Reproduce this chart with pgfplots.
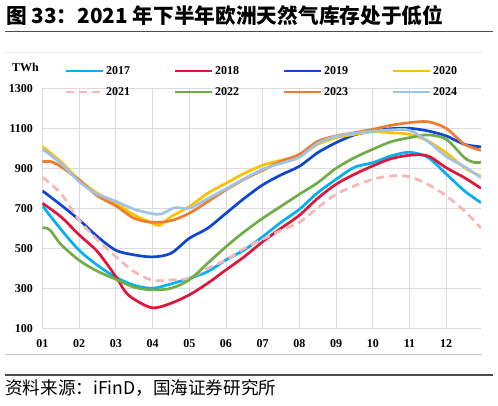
\documentclass[border=0pt]{standalone}
\usepackage{pgfplots}
\pgfplotsset{compat=1.18}
\usepackage{fontspec}
\setmainfont{Liberation Serif}
\newfontfamily\cjk{Noto Sans CJK SC}
\definecolor{c17}{RGB}{0,176,240}
\definecolor{c18}{RGB}{222,22,58}
\definecolor{c19}{RGB}{12,70,210}
\definecolor{c20}{RGB}{255,192,0}
\definecolor{c21}{RGB}{248,182,182}
\definecolor{c22}{RGB}{112,173,71}
\definecolor{c23}{RGB}{237,125,49}
\definecolor{c24}{RGB}{157,195,230}
\begin{document}
\begin{tikzpicture}[x=1pt,y=1pt]
\useasboundingbox (0,0) rectangle (498,406);
\node[anchor=base west, inner sep=0, font=\cjk\bfseries\fontsize{20.7}{20.7}\selectfont] at (6,382) {图 33：2021 年下半年欧洲天然气库存处于低位};
\draw[line width=1.4pt, black!70] (5,374.3) -- (492.7,374.3);
\draw[line width=0.6pt, black!8] (5,353.3) -- (481.7,353.3);
\draw[line width=0.8pt, black!22] (5,52) -- (481.7,52);
\draw[line width=1.4pt, black!70] (5,31) -- (492.7,31);
\node[anchor=base west, inner sep=0, font=\cjk\fontsize{17.6}{17.6}\selectfont] at (5,11) {资料来源：iFinD，国海证券研究所};
\node[anchor=base west, inner sep=0, font=\bfseries\fontsize{12}{12}\selectfont] at (12,334) {TWh};
\begin{axis}[
  at={(42.5pt,77.7pt)}, anchor=south west,
  scale only axis, width=438.5pt, height=240pt,
  xmin=1, xmax=12.95, ymin=100, ymax=1300,
  xtick={1,2,3,4,5,6,7,8,9,10,11,12},
  xticklabels={01,02,03,04,05,06,07,08,09,10,11,12},
  ytick={100,300,500,700,900,1100,1300},
  /pgf/number format/1000 sep={},
  /pgf/number format/assume math mode=true,
  grid=major, grid style={black!14, line width=0.8pt},
  axis line style={draw=none}, major tick length=0pt,
  ticklabel style={font=\bfseries\fontsize{12}{12}\selectfont},
  yticklabel style={xshift=-6pt},
  xticklabel style={yshift=-8pt},
  every axis plot/.append style={line width=2.7pt, smooth, tension=0.5},
  legend columns=4,
  legend cell align=left,
  legend style={draw=none, fill=none, at={(axis description cs:0.0513,1.1158)}, anchor=north west, inner sep=0pt,
    font=\bfseries\fontsize{12}{12}\selectfont,
    nodes={inner xsep=2pt, inner ysep=5pt, text height=9pt, text depth=2pt, text width=26pt, align=left},
    /tikz/every even column/.append style={column sep=40pt}},
  legend image code/.code={\draw[#1, line width=2pt] (0pt,0pt) -- (37pt,0pt);},
]
\addplot[c17] coordinates {(1,712)(1.5,595)(2,490)(2.5,415)(3,355)(3.5,315)(4,300)(4.5,322)(5,350)(5.5,383)(6,442)(6.5,492)(7,558)(7.5,630)(8,695)(8.5,778)(9,845)(9.5,905)(10,928)(10.5,962)(11,980)(11.5,955)(12,872)(12.5,787)(12.95,728)};
\addlegendentry{2017}
\addplot[c18] coordinates {(1,725)(1.5,658)(2,567)(2.5,483)(3,358)(3.25,285)(3.5,245)(4,202)(4.5,225)(5,267)(5.5,325)(6,392)(6.5,458)(7,533)(7.5,600)(8,665)(8.5,750)(9,820)(9.5,870)(10,912)(10.5,948)(11,965)(11.5,962)(12,903)(12.5,853)(12.95,800)};
\addlegendentry{2018}
\addplot[c19] coordinates {(1,787)(1.5,717)(2,642)(2.5,558)(3,490)(3.5,467)(4,457)(4.5,475)(5,550)(5.5,600)(6,675)(6.5,750)(7,817)(7.5,867)(8,910)(8.5,978)(9,1028)(9.5,1067)(10,1087)(10.5,1098)(11,1100)(11.5,1087)(12,1062)(12.5,1020)(12.95,1007)};
\addlegendentry{2019}
\addplot[c20] coordinates {(1,1008)(1.5,933)(2,842)(2.5,775)(3,725)(3.5,667)(4,625)(4.2,615)(4.5,658)(5,708)(5.5,775)(6,825)(6.5,875)(7,915)(7.5,940)(8,962)(8.5,1020)(9,1053)(9.5,1070)(10,1083)(10.5,1078)(11,1070)(11.5,1037)(12,978)(12.5,903)(12.95,860)};
\addlegendentry{2020}
\addplot[c21, dash pattern=on 8pt off 5pt] coordinates {(1,855)(1.5,775)(2,640)(2.5,542)(3,458)(3.5,383)(4,340)(4.5,342)(5,350)(5.5,400)(6,442)(6.5,500)(7,545)(7.5,590)(8,630)(8.5,703)(9,770)(9.5,812)(10,845)(10.5,862)(11,858)(11.5,820)(12,762)(12.5,687)(12.95,600)};
\addlegendentry{2021}
\addplot[c22] coordinates {(1,603)(1.2,592)(1.5,520)(2,440)(2.5,385)(3,345)(3.5,305)(4,292)(4.5,300)(5,342)(5.5,425)(6,508)(6.5,583)(7,650)(7.5,710)(8,770)(8.5,828)(9,900)(9.5,953)(10,995)(10.5,1033)(11,1053)(11.5,1067)(12,1045)(12.5,953)(12.75,930)(12.95,930)};
\addlegendentry{2022}
\addplot[c23] coordinates {(1,933)(1.25,933)(1.5,908)(2,842)(2.5,762)(3,712)(3.5,650)(4,630)(4.5,638)(5,675)(5.5,733)(6,792)(6.5,845)(7,890)(7.5,935)(8,970)(8.5,1035)(9,1062)(9.5,1078)(10,1095)(10.5,1115)(11,1128)(11.5,1133)(12,1100)(12.5,1020)(12.95,990)};
\addlegendentry{2023}
\addplot[c24] coordinates {(1,995)(1.5,925)(2,833)(2.5,770)(3,735)(3.5,695)(4,673)(4.25,672)(4.6,703)(5,700)(5.5,748)(6,797)(6.5,848)(7,895)(7.5,925)(8,955)(8.5,1025)(9,1060)(9.5,1075)(10,1085)(10.5,1092)(11,1090)(11.5,1035)(12,960)(12.5,908)(12.95,853)};
\addlegendentry{2024}
\end{axis}
\end{tikzpicture}
\end{document}
